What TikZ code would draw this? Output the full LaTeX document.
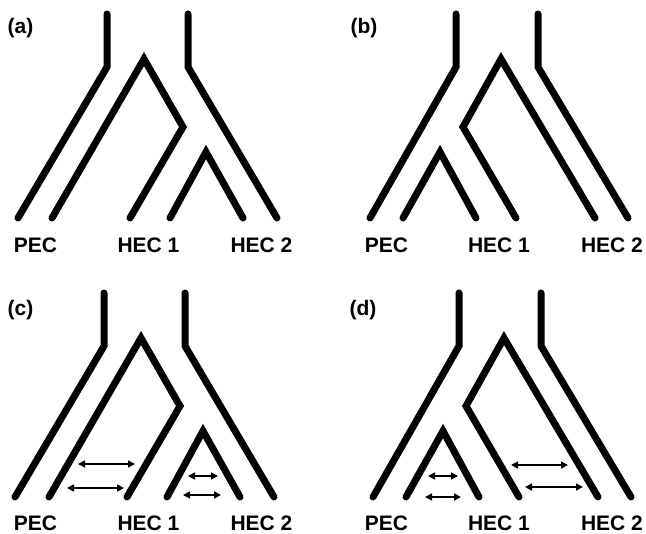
\documentclass[tikz,border=0pt]{standalone}
\usepackage{fontspec}
\setmainfont{Liberation Sans}
\usetikzlibrary{arrows.meta}
\tikzset{
  branch/.style={line width=7pt, line cap=round, line join=miter},
  lab/.style={font=\fontsize{21}{25}\selectfont\bfseries, inner sep=0pt, anchor=base},
  gene/.style={line width=1.6pt, {Triangle[length=7pt,width=7pt]}-{Triangle[length=7pt,width=7pt]}},
}
\begin{document}
\begin{tikzpicture}[x=1pt,y=-1pt]
\useasboundingbox (0,0) rectangle (646,534);

% ---------- panel (a) ----------
\begin{scope}
  \coordinate (aL0) at (107,14); \coordinate (aL1) at (107,67); \coordinate (aL2) at (18,218);
  \coordinate (aR0) at (188,14); \coordinate (aR1) at (188,67); \coordinate (aR2) at (277,218);
  \coordinate (aI0) at (52,218); \coordinate (aI1) at (144,59); \coordinate (aI2) at (183,127); \coordinate (aI3) at (130,218);
  \coordinate (aT0) at (170,218); \coordinate (aT1) at (206,152); \coordinate (aT2) at (243,218);
\end{scope}
\draw[branch] (aL0) -- (aL1) -- (aL2);
\draw[branch] (aR0) -- (aR1) -- (aR2);
\draw[branch] (aI0) -- (aI1) -- (aI2) -- (aI3);
\draw[branch] (aT0) -- (aT1) -- (aT2);

% ---------- panel (c) ----------
\begin{scope}[shift={(-3,279)}]
  \coordinate (cL0) at (107,14); \coordinate (cL1) at (107,67); \coordinate (cL2) at (18,218);
  \coordinate (cR0) at (188,14); \coordinate (cR1) at (188,67); \coordinate (cR2) at (277,218);
  \coordinate (cI0) at (52,218); \coordinate (cI1) at (144,59); \coordinate (cI2) at (183,127); \coordinate (cI3) at (130,218);
  \coordinate (cT0) at (170,218); \coordinate (cT1) at (206,152); \coordinate (cT2) at (243,218);
\end{scope}
\draw[branch] (cL0) -- (cL1) -- (cL2);
\draw[branch] (cR0) -- (cR1) -- (cR2);
\draw[branch] (cI0) -- (cI1) -- (cI2) -- (cI3);
\draw[branch] (cT0) -- (cT1) -- (cT2);
\coordinate (cA1s) at (78,464);  \coordinate (cA1e) at (135,464);
\coordinate (cA2s) at (67,488);  \coordinate (cA2e) at (124,488);
\coordinate (cA3s) at (188,476); \coordinate (cA3e) at (218,476);
\coordinate (cA4s) at (183,495); \coordinate (cA4e) at (221,495);
\draw[gene] (cA1s) -- (cA1e);
\draw[gene] (cA2s) -- (cA2e);
\draw[gene] (cA3s) -- (cA3e);
\draw[gene] (cA4s) -- (cA4e);

% ---------- panel (b) ----------
\begin{scope}
  \coordinate (bL0) at (456,14); \coordinate (bL1) at (456,67); \coordinate (bL2) at (370,218);
  \coordinate (bR0) at (538,14); \coordinate (bR1) at (538,67); \coordinate (bR2) at (628,218);
  \coordinate (bI0) at (516,218); \coordinate (bI1) at (463,127); \coordinate (bI2) at (501,59); \coordinate (bI3) at (595,218);
  \coordinate (bT0) at (403,218); \coordinate (bT1) at (440,152); \coordinate (bT2) at (476,218);
\end{scope}
\draw[branch] (bL0) -- (bL1) -- (bL2);
\draw[branch] (bR0) -- (bR1) -- (bR2);
\draw[branch] (bI0) -- (bI1) -- (bI2) -- (bI3);
\draw[branch] (bT0) -- (bT1) -- (bT2);

% ---------- panel (d) ----------
\begin{scope}[shift={(3,279)}]
  \coordinate (dL0) at (456,14); \coordinate (dL1) at (456,67); \coordinate (dL2) at (370,218);
  \coordinate (dR0) at (538,14); \coordinate (dR1) at (538,67); \coordinate (dR2) at (628,218);
  \coordinate (dI0) at (516,218); \coordinate (dI1) at (463,127); \coordinate (dI2) at (501,59); \coordinate (dI3) at (595,218);
  \coordinate (dT0) at (403,218); \coordinate (dT1) at (440,152); \coordinate (dT2) at (476,218);
\end{scope}
\draw[branch] (dL0) -- (dL1) -- (dL2);
\draw[branch] (dR0) -- (dR1) -- (dR2);
\draw[branch] (dI0) -- (dI1) -- (dI2) -- (dI3);
\draw[branch] (dT0) -- (dT1) -- (dT2);
\coordinate (dA1s) at (428,476); \coordinate (dA1e) at (458,476);
\coordinate (dA2s) at (425,497); \coordinate (dA2e) at (461,497);
\coordinate (dA3s) at (511,465); \coordinate (dA3e) at (568,465);
\coordinate (dA4s) at (525,487); \coordinate (dA4e) at (583,487);
\draw[gene] (dA1s) -- (dA1e);
\draw[gene] (dA2s) -- (dA2e);
\draw[gene] (dA3s) -- (dA3e);
\draw[gene] (dA4s) -- (dA4e);

% ---------- labels ----------
\node[lab] (la) at (20.5,34) {(a)};
\node[lab] (lb) at (364,34) {(b)};
\node[lab] (lc) at (20.5,316) {(c)};
\node[lab] (ld) at (363,316) {(d)};

\node[lab] (aP) at (35.5,253) {PEC};
\node[lab] (aH1) at (148.5,253) {HEC 1};
\node[lab] (aH2) at (261.5,253) {HEC 2};
\node[lab] (bP) at (386.5,253) {PEC};
\node[lab] (bH1) at (499,253) {HEC 1};
\node[lab] (bH2) at (612,253) {HEC 2};
\node[lab] (cP) at (35.5,531) {PEC};
\node[lab] (cH1) at (148.5,531) {HEC 1};
\node[lab] (cH2) at (261.5,531) {HEC 2};
\node[lab] (dP) at (386.5,531) {PEC};
\node[lab] (dH1) at (499,531) {HEC 1};
\node[lab] (dH2) at (612,531) {HEC 2};
\end{tikzpicture}
\end{document}
